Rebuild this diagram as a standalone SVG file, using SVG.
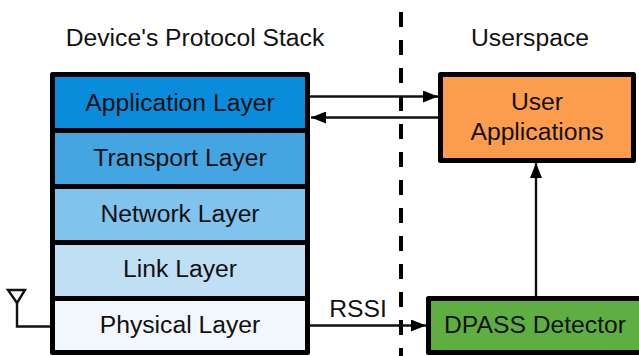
<svg xmlns="http://www.w3.org/2000/svg" width="639" height="356" viewBox="0 0 639 356">
<style>
text{font-family:"Liberation Sans",Arial,sans-serif;font-size:24.7px;fill:#111;text-anchor:middle}
.b{stroke:#000;stroke-width:5;stroke-linejoin:round}
.l{fill:none;stroke:#111;stroke-width:2.4}
</style>
<defs><marker id="a" viewBox="0 0 15 12" refX="15" refY="6" markerWidth="15" markerHeight="12" markerUnits="userSpaceOnUse" orient="auto"><path d="M0 0L15 6L0 12Z" fill="#000"/></marker></defs>
<rect width="639" height="356" fill="#fff"/>
<text x="195" y="46">Device's Protocol Stack</text>
<text x="530" y="46">Userspace</text>
<g id="connectors">
<path d="M401 12V356" fill="none" stroke="#000" stroke-width="4" stroke-dasharray="15 13"/>
<path class="l" d="M310 96.5H438" marker-end="url(#a)"/>
<path class="l" d="M438 117.5H311" marker-end="url(#a)"/>
<path class="l" d="M536 296V163" marker-end="url(#a)"/>
<path class="l" d="M310 325.5H426" marker-end="url(#a)"/>
<path class="l" d="M50 326.5H17V303"/>
<path class="l" d="M8 290H25L17 303Z"/>
</g>
<g id="application"><rect class="b" x="52.5" y="74.5" width="255" height="56" fill="#0b8bdb"/><text x="180" y="111">Application Layer</text></g>
<g id="transport"><rect class="b" x="52.5" y="130.5" width="255" height="56" fill="#44a5e3"/><text x="180" y="166">Transport Layer</text></g>
<g id="network"><rect class="b" x="52.5" y="186.5" width="255" height="56" fill="#80c3ec"/><text x="180" y="222">Network Layer</text></g>
<g id="link"><rect class="b" x="52.5" y="242.5" width="255" height="56" fill="#bfe0f4"/><text x="180" y="277">Link Layer</text></g>
<g id="physical"><rect class="b" x="52.5" y="298.5" width="255" height="54" fill="#f2f7fd"/><text x="180" y="333">Physical Layer</text></g>
<g id="user-apps"><rect class="b" x="440.5" y="74.5" width="193" height="86" fill="#fb9d4d"/><text x="537" y="110">User</text><text x="537" y="140">Applications</text></g>
<g id="dpass"><rect class="b" x="428.5" y="298.5" width="215" height="54" fill="#5fae42"/><text x="535" y="333">DPASS Detector</text></g>
<text x="358" y="317">RSSI</text>
</svg>
